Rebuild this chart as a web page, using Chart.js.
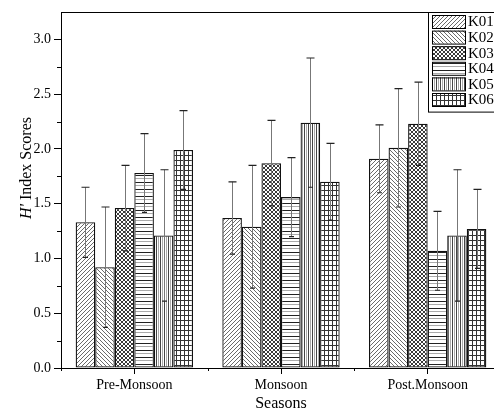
<!DOCTYPE html>
<html lang="en">
<head>
    <meta charset="UTF-8">
    <title>H' Index Scores by season</title>
    <script src="https://cdn.jsdelivr.net/npm/chart.js@4.4.0/dist/chart.umd.min.js"></script>
    <style>
        html, body { margin: 0; padding: 0; background: #fff; overflow: hidden; }
    </style>
</head>
<body>
    <canvas id="myChart" width="501" height="419"></canvas>
    <script>
        // data
        const seasons = ['Pre-Monsoon', 'Monsoon', 'Post.Monsoon'];
        const sites = ['K01', 'K02', 'K03', 'K04', 'K05', 'K06'];
        const k01 = [1.33, 1.37, 1.91];
        const k02 = [0.92, 1.29, 2.01];
        const k03 = [1.46, 1.87, 2.23];
        const k04 = [1.78, 1.56, 1.07];
        const k05 = [1.21, 2.24, 1.21];
        const k06 = [1.99, 1.70, 1.27];
        const sd01 = [0.32, 0.33, 0.31];
        const sd02 = [0.55, 0.56, 0.54];
        const sd03 = [0.39, 0.39, 0.38];
        const sd04 = [0.36, 0.36, 0.36];
        const sd05 = [0.60, 0.59, 0.60];
        const sd06 = [0.36, 0.35, 0.36];

        const serif = '"Liberation Serif", "Times New Roman", serif';

        // hatch fills
        function makePattern(kind) {
            const c = document.createElement('canvas');
            const g = c.getContext('2d');
            if (kind === 'fwd' || kind === 'back') {
                c.width = 4; c.height = 4;
                g.fillStyle = '#fff'; g.fillRect(0, 0, 4, 4);
                g.strokeStyle = '#444'; g.lineWidth = 0.8;
                g.beginPath();
                if (kind === 'fwd') {
                    g.moveTo(0, 4); g.lineTo(4, 0);
                    g.moveTo(-1, 1); g.lineTo(1, -1);
                    g.moveTo(3, 5); g.lineTo(5, 3);
                } else {
                    g.moveTo(0, 0); g.lineTo(4, 4);
                    g.moveTo(3, -1); g.lineTo(5, 1);
                    g.moveTo(-1, 3); g.lineTo(1, 5);
                }
                g.stroke();
            } else if (kind === 'cross') {
                c.width = 4; c.height = 4;
                g.fillStyle = '#fff'; g.fillRect(0, 0, 4, 4);
                g.strokeStyle = '#222'; g.lineWidth = 0.9;
                g.beginPath();
                g.moveTo(0, 0); g.lineTo(4, 4);
                g.moveTo(4, 0); g.lineTo(0, 4);
                g.stroke();
            } else if (kind === 'horiz') {
                c.width = 4; c.height = 7;
                g.fillStyle = '#fff'; g.fillRect(0, 0, 4, 7);
                g.fillStyle = '#222'; g.fillRect(0, 0, 4, 1);
                g.fillStyle = '#aaa'; g.fillRect(0, 3, 4, 1);
            } else if (kind === 'vert') {
                c.width = 4; c.height = 4;
                g.fillStyle = '#fff'; g.fillRect(0, 0, 4, 4);
                g.fillStyle = '#444'; g.fillRect(0, 0, 1, 4);
                g.fillStyle = '#aaa'; g.fillRect(2, 0, 1, 4);
            } else {
                c.width = 4; c.height = 5;
                g.fillStyle = '#fff'; g.fillRect(0, 0, 4, 5);
                g.fillStyle = '#333';
                g.fillRect(0, 0, 4, 1);
                g.fillRect(0, 0, 1, 5);
            }
            return g.createPattern(c, 'repeat');
        }

        const fills = ['fwd', 'back', 'cross', 'horiz', 'vert', 'grid'].map(makePattern);
        const values = [k01, k02, k03, k04, k05, k06];
        const errors = [sd01, sd02, sd03, sd04, sd05, sd06];

        const datasets = sites.map((name, i) => ({
            label: name,
            data: values[i],
            errors: errors[i],
            backgroundColor: fills[i],
            borderColor: '#111',
            borderWidth: 1.3,
            borderSkipped: false,
            categoryPercentage: 0.8,
            barPercentage: 1.0
        }));

        const isMajor = v => Math.abs(v * 2 - Math.round(v * 2)) < 1e-6 && v < 3.1;

        // error bars on top of the bars
        const errorBars = {
            id: 'errorBars',
            afterDatasetsDraw(chart) {
                const ctx = chart.ctx;
                const y = chart.scales.y;
                chart.data.datasets.forEach((ds, di) => {
                    const meta = chart.getDatasetMeta(di);
                    meta.data.forEach((bar, i) => {
                        const v = ds.data[i];
                        const e = ds.errors[i];
                        const yt = y.getPixelForValue(v + e);
                        const yb = y.getPixelForValue(v - e);
                        const x = Math.round(bar.x) + 0.5;
                        ctx.save();
                        ctx.lineWidth = 1;
                        ctx.strokeStyle = '#777';
                        ctx.beginPath();
                        ctx.moveTo(x, yt);
                        ctx.lineTo(x, yb);
                        ctx.stroke();
                        ctx.strokeStyle = '#222';
                        ctx.lineWidth = 1.2;
                        ctx.beginPath();
                        ctx.moveTo(x - 4, yt); ctx.lineTo(x + 4, yt);
                        ctx.moveTo(x - 2.5, yb); ctx.lineTo(x + 2.5, yb);
                        ctx.stroke();
                        ctx.restore();
                    });
                });
            }
        };

        // frame, minor ticks, y title, legend
        const decorations = {
            id: 'decorations',
            afterDraw(chart) {
                const ctx = chart.ctx;
                const area = chart.chartArea;
                const x = chart.scales.x;
                const y = chart.scales.y;
                ctx.save();
                ctx.strokeStyle = '#000';
                ctx.lineWidth = 1;

                // top frame line
                ctx.beginPath();
                ctx.moveTo(area.left, area.top + 0.5);
                ctx.lineTo(area.right, area.top + 0.5);
                ctx.stroke();

                // minor y ticks
                ctx.beginPath();
                y.ticks.forEach(t => {
                    if (isMajor(t.value) || t.value > 3.2) return;
                    const py = Math.round(y.getPixelForValue(t.value)) + 0.5;
                    ctx.moveTo(area.left - 4, py);
                    ctx.lineTo(area.left, py);
                });
                // minor x ticks between seasons
                const half = (x.getPixelForValue(1) - x.getPixelForValue(0)) / 2;
                for (let i = 0; i <= seasons.length; i++) {
                    const px = Math.round(x.getPixelForValue(i) - half) + 0.5;
                    ctx.moveTo(px, area.bottom);
                    ctx.lineTo(px, area.bottom + 3);
                }
                ctx.stroke();

                // y axis title with italic H'
                ctx.fillStyle = '#000';
                ctx.translate(27, (area.top + area.bottom) / 2 - 22);
                ctx.rotate(-Math.PI / 2);
                ctx.textBaseline = 'middle';
                ctx.font = 'italic 16px ' + serif;
                const w1 = ctx.measureText("H'").width;
                ctx.font = '16px ' + serif;
                const w2 = ctx.measureText(' Index Scores').width;
                let sx = -(w1 + w2) / 2;
                ctx.font = 'italic 16px ' + serif;
                ctx.fillText("H'", sx, 0);
                ctx.font = '16px ' + serif;
                ctx.fillText(' Index Scores', sx + w1, 0);
                ctx.restore();

                // legend box
                ctx.save();
                const lx = area.right - 73;
                const ly = area.top;
                const rowH = 15.6;
                ctx.strokeStyle = '#000';
                ctx.lineWidth = 1;
                ctx.fillStyle = '#fff';
                ctx.fillRect(lx, ly, area.right - lx, rowH * 6 + 6);
                ctx.strokeRect(lx + 0.5, ly + 0.5, area.right - lx + 5, rowH * 6 + 6);
                ctx.font = '15px ' + serif;
                ctx.textBaseline = 'middle';
                chart.data.datasets.forEach((ds, i) => {
                    const ry = ly + 3 + i * rowH;
                    ctx.fillStyle = ds.backgroundColor;
                    ctx.fillRect(lx + 4, ry, 33, 13);
                    ctx.strokeRect(lx + 4.5, ry + 0.5, 33, 13);
                    ctx.fillStyle = '#000';
                    ctx.fillText(ds.label, lx + 40, ry + 7.5);
                });
                ctx.restore();
            }
        };

        const ctx = document.getElementById('myChart').getContext('2d');
        const myChart = new Chart(ctx, {
            type: 'bar',
            data: { labels: seasons, datasets: datasets },
            options: {
                responsive: false,
                animation: false,
                layout: { padding: { top: 12, left: 0, right: 0, bottom: 0 } },
                plugins: {
                    legend: { display: false },
                    tooltip: { enabled: false }
                },
                scales: {
                    x: {
                        offset: true,
                        grid: { offset: false, drawOnChartArea: false, tickLength: 6, color: '#000' },
                        border: { color: '#000', width: 1 },
                        ticks: { color: '#000', font: { family: serif, size: 14 }, padding: 3 },
                        title: {
                            display: true,
                            text: 'Seasons',
                            color: '#000',
                            font: { family: serif, size: 16 },
                            padding: { top: 0, bottom: 6 }
                        },
                        afterFit: s => { s.height = 51; }
                    },
                    y: {
                        min: 0,
                        max: 3.25,
                        grid: {
                            drawOnChartArea: false,
                            tickLength: 7,
                            tickColor: c => isMajor(c.tick.value) ? '#000' : 'rgba(0,0,0,0)'
                        },
                        border: { color: '#000', width: 1 },
                        ticks: {
                            stepSize: 0.25,
                            autoSkip: false,
                            color: '#000',
                            padding: 3,
                            font: { family: serif, size: 14 },
                            callback: v => isMajor(v) ? v.toFixed(1) : ''
                        },
                        afterFit: s => { s.width = 61; }
                    }
                }
            },
            plugins: [errorBars, decorations]
        });
    </script>
</body>
</html>
